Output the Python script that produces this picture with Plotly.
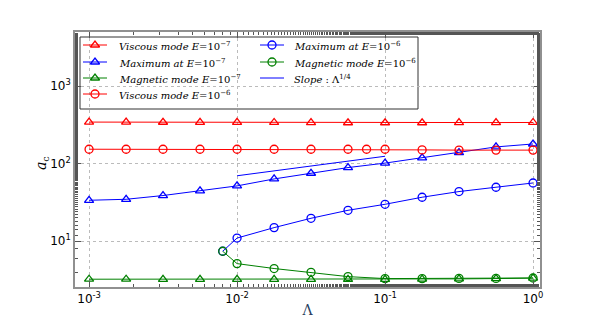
import plotly.graph_objects as go

# x positions (Lambda)
lam = [1e-3, 1.78e-3, 3.16e-3, 5.62e-3, 1e-2, 1.78e-2, 3.16e-2, 5.62e-2,
       1e-1, 1.78e-1, 3.16e-1, 5.62e-1, 1.0]
lam_visc6 = [1e-3, 1.78e-3, 3.16e-3, 5.62e-3, 1e-2, 1.78e-2, 3.16e-2, 5.62e-2,
             7.5e-2, 1e-1, 1.78e-1, 3.16e-1, 5.62e-1, 1.0]
lam_e6 = [8e-3, 1e-2, 1.78e-2, 3.16e-2, 5.62e-2, 1e-1, 1.78e-1, 3.16e-1, 5.62e-1, 1.0]
lam_slope = [1e-2, 1e-1]

# a_c values
visc_e7 = [345, 344, 343, 342, 342, 341, 339, 338, 338, 338, 339, 340, 341]
max_e7 = [33.8, 34.8, 38.9, 44.6, 51.8, 63.7, 75.4, 89.3, 102, 119, 139, 165, 180]
mag_e7 = [3.24, 3.24, 3.23, 3.23, 3.23, 3.22, 3.22, 3.22, 3.22, 3.24, 3.27, 3.3, 3.35]
visc_e6 = [154, 154, 154, 154, 154, 154, 154, 154, 154, 154, 151, 150, 150, 150]
max_e6 = [7.43, 11.0, 15.0, 19.8, 25.1, 30.0, 37.0, 43.8, 49.8, 56.5]
mag_e6 = [7.43, 5.15, 4.45, 3.98, 3.5, 3.3, 3.3, 3.32, 3.32, 3.36]
slope = [70, 125]

RED, BLUE, GREEN = "#ff0000", "#0000ff", "#008000"
TRI, CIRC = "triangle-up-open", "circle-open"

names = ["<i>Viscous mode E</i>=10<sup>−7</sup>",
         "<i>Maximum at E</i>=10<sup>−7</sup>",
         "<i>Magnetic mode E</i>=10<sup>−7</sup>",
         "<i>Viscous mode E</i>=10<sup>−6</sup>",
         "<i>Maximum at E</i>=10<sup>−6</sup>",
         "<i>Magnetic mode E</i>=10<sup>−6</sup>",
         "<i>Slope</i> : Λ<sup>1/4</sup>"]


def series(x, y, name, color, symbol):
    return go.Scatter(x=x, y=y, name=name, mode="lines+markers", showlegend=False,
                      line=dict(color=color, width=1),
                      marker=dict(symbol=symbol, size=8, color=color,
                                  line=dict(color=color, width=1.3)))


fig = go.Figure()
fig.add_trace(series(lam, visc_e7, names[0], RED, TRI))
fig.add_trace(series(lam, max_e7, names[1], BLUE, TRI))
fig.add_trace(series(lam, mag_e7, names[2], GREEN, TRI))
fig.add_trace(series(lam_visc6, visc_e6, names[3], RED, CIRC))
fig.add_trace(series(lam_e6, max_e6, names[4], BLUE, CIRC))
fig.add_trace(series(lam_e6, mag_e6, names[5], GREEN, CIRC))
fig.add_trace(go.Scatter(x=lam_slope, y=slope, name=names[6], mode="lines",
                         showlegend=False, line=dict(color=BLUE, width=1)))

# --- hand-built legend (plotly's rows are too tall), two columns like matplotlib
# plot area in figure pixels: x 67..532, y 24..279
def px(x):
    return (x - 67) / 465.0


def py(y):
    return 1 - (y - 24) / 255.0


fig.add_shape(type="rect", xref="paper", yref="paper", layer="between",
              x0=px(72), x1=px(410), y0=py(29), y1=py(101),
              fillcolor="white", line=dict(color="#333333", width=1))

leg_colors = [RED, BLUE, GREEN, RED, BLUE, GREEN, BLUE]
leg_symbols = [TRI, TRI, TRI, CIRC, CIRC, CIRC, None]
rows_y = [37, 54, 70, 86]
cols_x = [(75, 99, 109), (252, 276, 284)]  # line start, line end, text start

mk_x, mk_y, mk_sym, mk_col = [], [], [], []
for i, name in enumerate(names):
    x0, x1, xt = cols_x[0] if i < 4 else cols_x[1]
    yy = rows_y[i if i < 4 else i - 4]
    fig.add_shape(type="line", xref="paper", yref="paper", layer="above",
                  x0=px(x0), x1=px(x1), y0=py(yy), y1=py(yy),
                  line=dict(color=leg_colors[i], width=1))
    fig.add_annotation(x=px(xt), y=py(yy + 1), xref="paper", yref="paper",
                       text=name, showarrow=False, xanchor="left", yanchor="middle",
                       font=dict(family="DejaVu Serif", size=10, color="black"))
    if leg_symbols[i]:
        mk_x.append(px((x0 + x1) / 2))
        mk_y.append(py(yy))
        mk_sym.append(leg_symbols[i])
        mk_col.append(leg_colors[i])

fig.add_trace(go.Scatter(x=mk_x, y=mk_y, xaxis="x2", yaxis="y2", mode="markers",
                         showlegend=False, hoverinfo="skip",
                         marker=dict(symbol=mk_sym, size=8, color=mk_col,
                                     line=dict(color=mk_col, width=1.3))))

# y axis label placed by hand so it sits close to the tick labels
fig.add_annotation(x=px(34), y=py(155), xref="paper", yref="paper", textangle=-90,
                   xanchor="center", yanchor="middle",
                   text="<i>a</i><sub>c</sub>", showarrow=False,
                   font=dict(family="DejaVu Serif", size=14, color="black"))

axis_common = dict(
    type="log", showline=True, linecolor="#909090", linewidth=1.5, mirror="allticks",
    ticks="inside", ticklen=6, tickcolor="#555555",
    showgrid=True, gridcolor="#bbbbbb", griddash="dot", gridwidth=1,
    minor=dict(ticks="inside", ticklen=3, tickcolor="#555555", showgrid=False),
    zeroline=False, tickfont=dict(family="DejaVu Sans", size=12, color="black"),
)

# the page adds an 8px body margin, so the figure is offset by -8px here
fig.update_layout(
    width=600, height=320,
    margin=dict(l=67, r=68, t=24, b=41, autoexpand=False),
    plot_bgcolor="white", paper_bgcolor="white", showlegend=False,
    xaxis=dict(**axis_common, range=[-3.095, 0.047],
               tickvals=[1e-3, 1e-2, 1e-1, 1],
               ticktext=["10<sup>-3</sup>", "10<sup>-2</sup>", "10<sup>-1</sup>", "10<sup>0</sup>"],
               title=dict(text="Λ", font=dict(family="DejaVu Serif", size=14), standoff=0)),
    yaxis=dict(**axis_common, range=[0.41, 3.70],
               tickvals=[10, 100, 1000],
               ticktext=["10<sup>1</sup>", "10<sup>2</sup>", "10<sup>3</sup>"]),
    xaxis2=dict(overlaying="x", anchor="y2", range=[0, 1], visible=False, fixedrange=True),
    yaxis2=dict(overlaying="y", anchor="x2", range=[0, 1], visible=False, fixedrange=True),
)

fig.write_html("out.html")
